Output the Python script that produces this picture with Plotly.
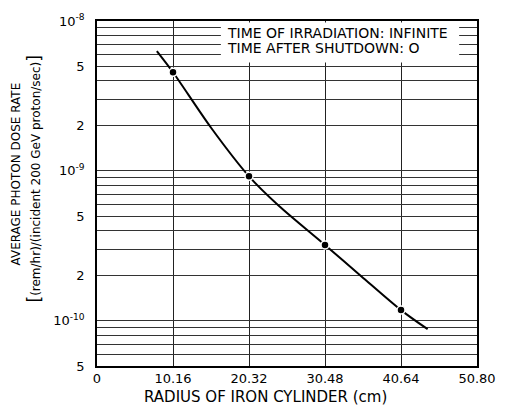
import plotly.graph_objects as go
import numpy as np

# Data
radius_points = [10.16, 20.32, 30.48, 40.64]
dose_points = [4.55e-9, 9.2e-10, 3.21e-10, 1.18e-10]

curve_radius = [8.0, 10.16, 15.25, 20.32, 24.3, 30.48, 35.36, 40.64, 44.2]
curve_dose = [6.3e-9, 4.55e-9, 1.94e-9, 9.2e-10, 5.86e-10, 3.21e-10, 1.98e-10, 1.18e-10, 8.8e-11]

x_tickvals = [0, 10.16, 20.32, 30.48, 40.64, 50.80]
x_ticktext = ["0", "10.16", "20.32", "30.48", "40.64", "50.80"]

y_labels = {1e-8: "10<sup>-8</sup>", 5e-9: "5", 2e-9: "2",
            1e-9: "10<sup>-9</sup>", 5e-10: "5", 2e-10: "2",
            1e-10: "10<sup>-10</sup>", 5e-11: "5"}

# all log-paper lines (1..9 per decade) within range
y_tickvals = []
y_ticktext = []
for dec in [-11, -10, -9, -8]:
    for m in range(1, 10):
        v = float(f"{m}e{dec}")
        if 5e-11 * 0.999 <= v <= 1e-8 * 1.001:
            y_tickvals.append(v)
            lab = " "
            for k, t in y_labels.items():
                if abs(np.log10(k) - np.log10(v)) < 1e-6:
                    lab = t
            y_ticktext.append(lab)

FONT = "DejaVu Sans"
fig = go.Figure()

fig.add_trace(go.Scatter(
    x=curve_radius, y=curve_dose, mode="lines",
    line=dict(color="black", width=2, shape="spline", smoothing=0.8),
    showlegend=False, hoverinfo="skip"))

fig.add_trace(go.Scatter(
    x=radius_points, y=dose_points, mode="markers",
    marker=dict(color="black", size=8, line=dict(color="white", width=1.5)),
    showlegend=False))

fig.update_layout(
    width=508, height=406,
    margin=dict(l=97, r=28, t=19, b=40),
    paper_bgcolor="white", plot_bgcolor="white",
    font=dict(family=FONT, color="black", size=13),
    xaxis=dict(range=[0, 50.8], tickvals=x_tickvals, ticktext=x_ticktext,
               showgrid=True, gridcolor="#222", gridwidth=1,
               showline=True, linecolor="black", linewidth=1.5, mirror=True,
               ticks="", zeroline=False, tickfont=dict(size=13)),
    yaxis=dict(type="log", range=[np.log10(5e-11), -8],
               tickvals=y_tickvals, ticktext=y_ticktext,
               showgrid=True, gridcolor="#333", gridwidth=1,
               showline=True, linecolor="black", linewidth=1.5, mirror=True,
               ticks="", ticklabelstandoff=8, zeroline=False,
               tickfont=dict(size=13)),
    shapes=[dict(type="rect", xref="paper", yref="paper",
                 x0=0.326, x1=0.953, y0=0.880, y1=0.996,
                 fillcolor="white", line=dict(width=0), layer="above")],
    annotations=[
        dict(text="TIME OF IRRADIATION: INFINITE", xref="paper", yref="paper",
             x=0.337, y=0.964, xanchor="left", yanchor="middle",
             showarrow=False, font=dict(size=14)),
        dict(text="TIME AFTER SHUTDOWN: O", xref="paper", yref="paper",
             x=0.337, y=0.921, xanchor="left", yanchor="middle",
             showarrow=False, font=dict(size=14)),
        dict(text="RADIUS OF IRON CYLINDER (cm)", xref="paper", yref="paper",
             x=0.444, y=-0.089, xanchor="center", yanchor="middle",
             showarrow=False, font=dict(size=15)),
        dict(text="AVERAGE PHOTON DOSE RATE", xref="paper", yref="paper",
             x=-0.214, y=0.557, xanchor="center", yanchor="middle",
             textangle=-90, showarrow=False, font=dict(size=12)),
        dict(text="<span style='font-size:17px'>[</span>(rem/hr)/(incident 200 GeV proton/sec)<span style='font-size:17px'>]</span>",
             xref="paper", yref="paper",
             x=-0.1645, y=0.542, xanchor="center", yanchor="middle",
             textangle=-90, showarrow=False, font=dict(size=12)),
    ],
)

fig.write_html("out.html")
